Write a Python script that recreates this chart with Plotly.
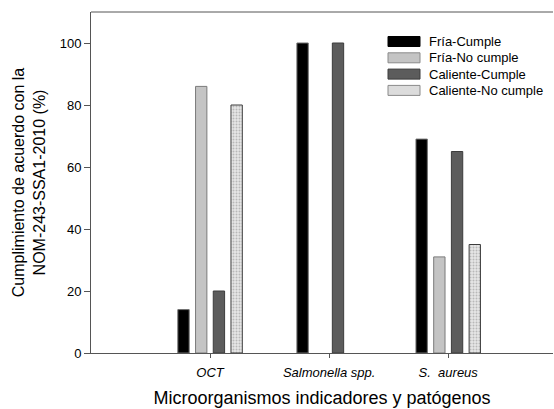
import plotly.graph_objects as go

categories = ["OCT", "Salmonella spp.", "S.  aureus"]
positions = [1, 2, 3]
fria_cumple = [14, 100, 69]
fria_no_cumple = [86, 0, 31]
caliente_cumple = [20, 100, 65]
caliente_no_cumple = [80, 0, 35]
series_names = ["Fría-Cumple", "Fría-No cumple", "Caliente-Cumple", "Caliente-No cumple"]
y_ticks = [0, 20, 40, 60, 80, 100]

FONT = "Arial, Liberation Sans, sans-serif"
W, H = 554, 409
ML, MR, MT, MB = 91, 1, 12, 56
PW, PH = W - ML - MR, H - MT - MB

styles = [
    dict(color="#000000", line=dict(color="#6e6e6e", width=1)),
    dict(color="#c4c4c4", line=dict(color="#7a7a7a", width=1)),
    dict(color="#5c5c5c", line=dict(color="#3c3c3c", width=1)),
    dict(color="#e6e6e6", line=dict(color="#3c3c3c", width=1),
         pattern=dict(shape=".", fgcolor="#8a8a8a", bgcolor="#e6e6e6", size=3, solidity=0.35)),
]
values = [fria_cumple, fria_no_cumple, caliente_cumple, caliente_no_cumple]

fig = go.Figure()
for name, vals, st in zip(series_names, values, styles):
    # zero-height bars are not drawn in the reference
    shown = [v if v != 0 else None for v in vals]
    fig.add_trace(go.Bar(x=positions, y=shown, name=name, marker=st, showlegend=False))

# custom legend (swatches + labels)
def px_x(px):
    return (px - ML) / PW

def px_y(py):
    return (MT + PH - py) / PH

legend_fill = ["#000000", "#c4c4c4", "#5c5c5c", "#dcdcdc"]
legend_line = ["#000000", "#8a8a8a", "#3c3c3c", "#8a8a8a"]
row_y = [41.5, 57.8, 74.1, 90.4]
shapes = []
annotations = []
for i, name in enumerate(series_names):
    cy = row_y[i]
    shapes.append(dict(type="rect", xref="paper", yref="paper",
                       x0=px_x(388), x1=px_x(420), y0=px_y(cy + 5), y1=px_y(cy - 5),
                       fillcolor=legend_fill[i], line=dict(color=legend_line[i], width=1)))
    annotations.append(dict(xref="paper", yref="paper", x=px_x(427), y=px_y(cy),
                            text=name, showarrow=False, xanchor="left", yanchor="middle",
                            font=dict(family=FONT, size=13, color="#000000")))

fig.update_layout(
    width=W, height=H,
    margin=dict(l=ML, r=MR, t=MT, b=MB, pad=0),
    paper_bgcolor="white", plot_bgcolor="white",
    barmode="group", bargap=0.405, bargroupgap=0.36,
    font=dict(family=FONT, size=13, color="#000000"),
    shapes=shapes, annotations=annotations,
    xaxis=dict(
        range=[0, 3.88], tickmode="array", tickvals=positions,
        ticktext=["<i>%s</i>" % c for c in categories],
        ticks="outside", ticklen=4, tickcolor="#555555", tickwidth=1,
        ticklabelstandoff=3,
        showline=True, linecolor="#555555", linewidth=1, mirror=False,
        showgrid=False, zeroline=False,
        tickfont=dict(family=FONT, size=13, color="#000000"),
        title=dict(text="Microorganismos indicadores y patógenos",
                   font=dict(family=FONT, size=18, color="#000000"), standoff=12),
    ),
    yaxis=dict(
        range=[0, 110], tickmode="array", tickvals=y_ticks,
        ticks="outside", ticklen=6, tickcolor="#555555", tickwidth=1,
        showline=True, linecolor="#555555", linewidth=1,
        showgrid=False, zeroline=False,
        tickfont=dict(family=FONT, size=13, color="#000000"),
        title=dict(text="Cumplimiento de acuerdo con la<br>NOM-243-SSA1-2010 (%)",
                   font=dict(family=FONT, size=16, color="#000000"), standoff=10),
    ),
)
# top frame line
fig.add_shape(type="line", xref="paper", yref="paper", x0=0, x1=1, y0=1, y1=1,
              line=dict(color="#555555", width=1))

fig.write_html("out.html")
